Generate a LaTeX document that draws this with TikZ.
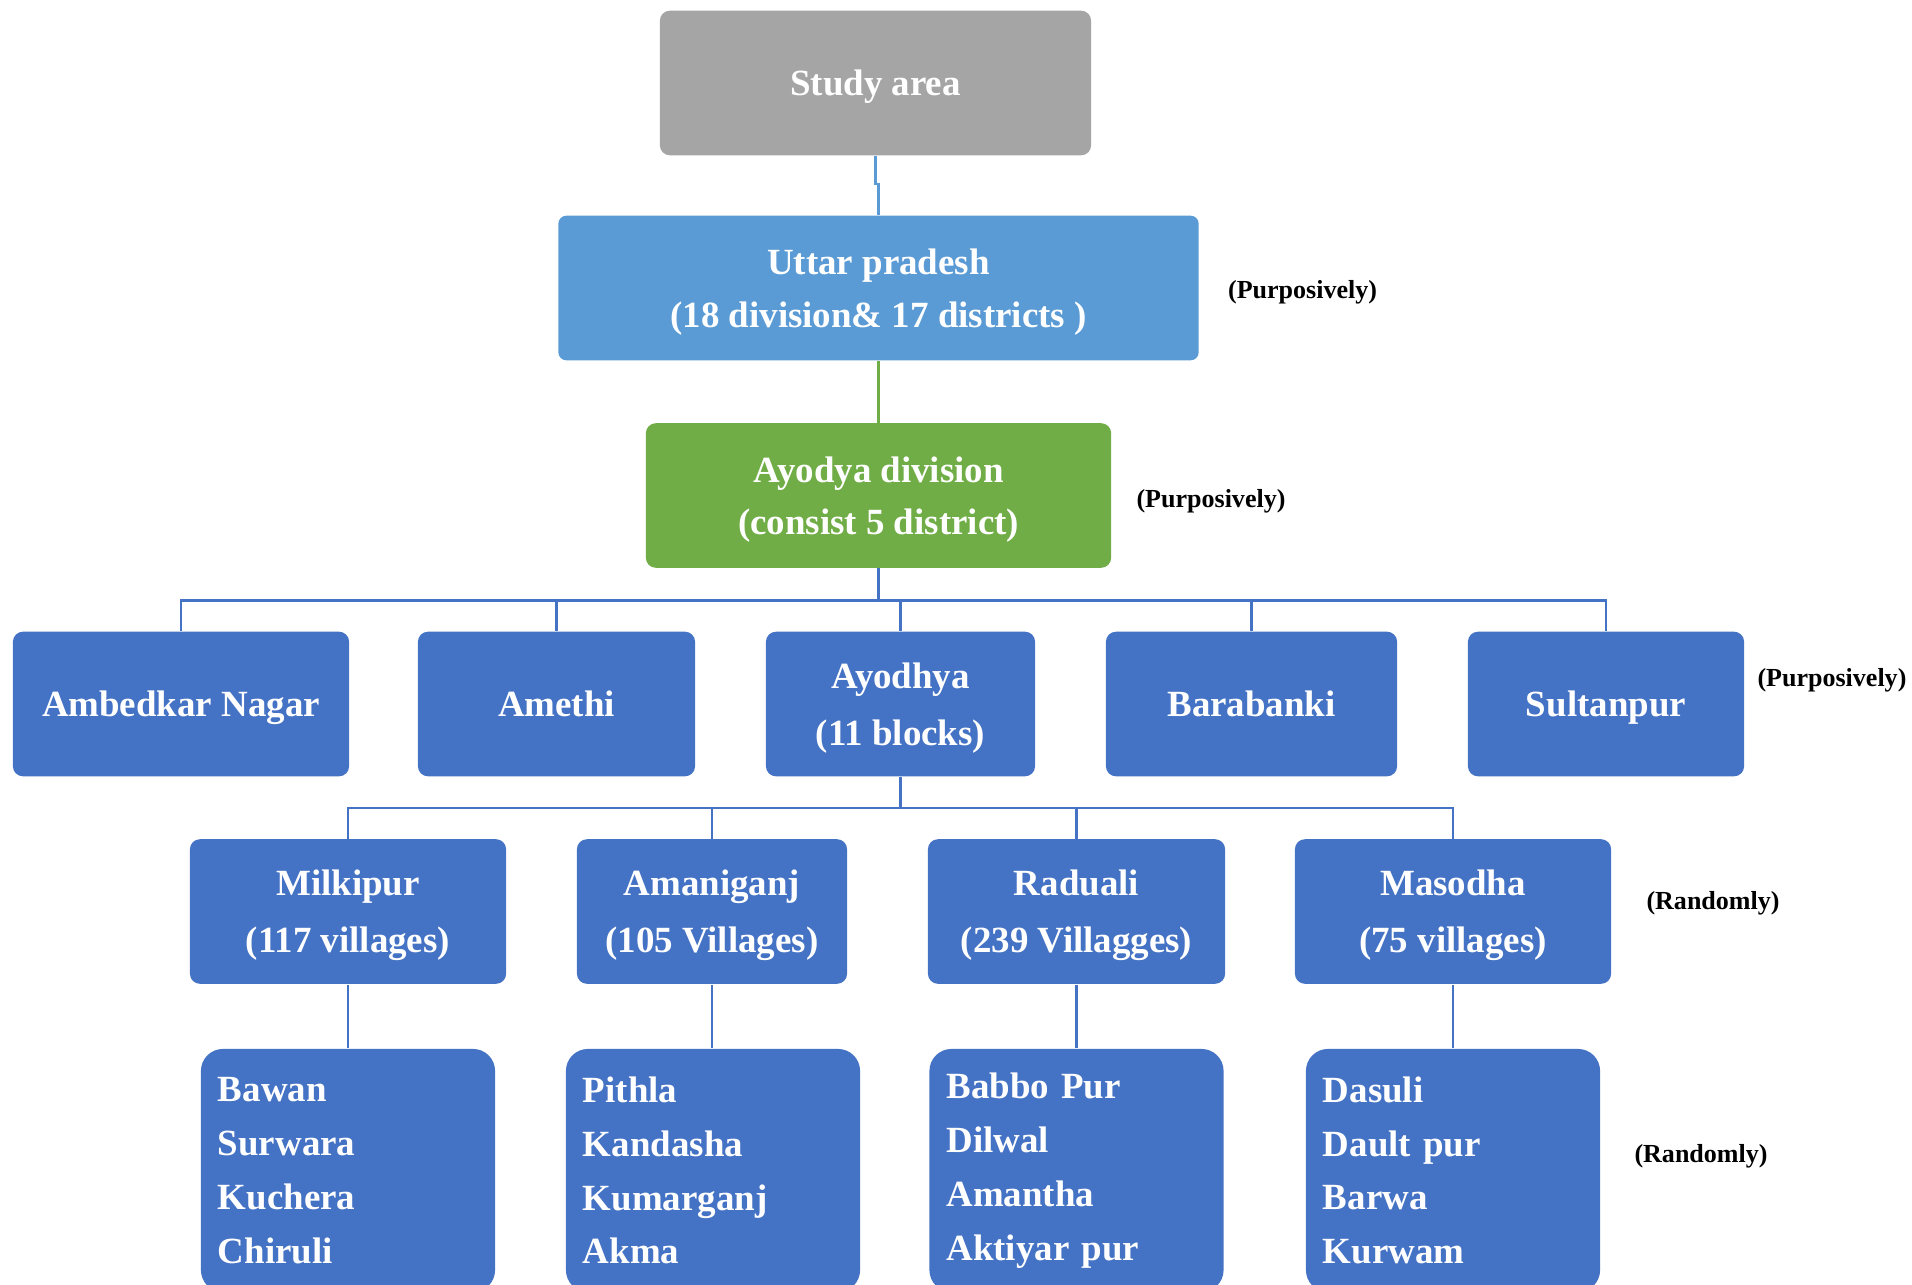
\documentclass[tikz,border=0pt]{standalone}
\usepackage{fontspec}
\setmainfont{Liberation Serif}
\usetikzlibrary{positioning,calc}
\newcommand{\boxfont}{\fontsize{10.5}{14.9}\selectfont\bfseries}
\newcommand{\tallfont}{\fontsize{10.5}{16.3}\selectfont\bfseries}
\newcommand{\villagefont}{\fontsize{10.5}{15.3}\selectfont\bfseries}
\newcommand{\annotfont}{\fontsize{7.4}{9}\selectfont\bfseries}
\def\boxheight{1.445cm}
\definecolor{stone}{HTML}{A5A5A5}
\definecolor{sky}{HTML}{5B9BD5}
\definecolor{leaf}{HTML}{70AD47}
\definecolor{royal}{HTML}{4472C4}

\begin{document}
\begin{tikzpicture}[x=0.01cm,y=-0.01cm,link/.style={draw=royal,line width=0.7pt}]
    \tikzstyle{box}=[rectangle,rounded corners=0.1cm,text=white,font=\boxfont,align=center,minimum height=\boxheight,inner sep=0pt]
    \tikzstyle{flat}=[text depth=0pt]
    \tikzstyle{top box}=[box,flat,fill=stone]
    \tikzstyle{state box}=[box,flat,fill=sky,rounded corners=0.08cm]
    \tikzstyle{division box}=[box,flat,fill=leaf]
    \tikzstyle{district box}=[box,flat,fill=royal,font=\tallfont]
    \tikzstyle{block box}=[box,flat,fill=royal,font=\tallfont]
    \tikzstyle{village box}=[box,fill=royal,align=left,text width=2.6cm,inner xsep=0.17cm,minimum height=2.43cm,rounded corners=0.22cm,font=\villagefont]
    \tikzstyle{annot}=[inner sep=0pt,font=\annotfont]

    \useasboundingbox (0,0) rectangle (1912,1285);
    \clip (0,0) rectangle (1912,1285);

    % Draw the nodes
    \node[top box,minimum width=4.31cm] (study) at (875.5,83) {Study area};
    \node[state box,minimum width=6.40cm] (up) at (878.5,288) {Uttar pradesh\\(18 division\& 17 districts )};
    \node[division box,minimum width=4.65cm] (div) at (878.5,495.5) {Ayodya division\\(consist 5 district)};

    \foreach \name/\x/\w/\txt in {1/181/3.36/{Ambedkar Nagar}, 2/556.5/2.77/{Amethi}, 3/900.5/2.69/{Ayodhya\\(11 blocks)}, 4/1251.5/2.91/{Barabanki}, 5/1606/2.76/{Sultanpur}}
        \node[district box,minimum width=\w cm] (dist-\name) at (\x,704) {\txt};

    \foreach \name/\x/\w/\txt in {1/348/3.16/{Milkipur\\(117 villages)}, 2/712/2.70/{Amaniganj\\(105 Villages)}, 3/1076.5/2.97/{Raduali\\(239 Villagges)}, 4/1453/3.16/{Masodha\\(75 villages)}}
        \node[block box,minimum width=\w cm] (blk-\name) at (\x,911.5) {\txt};

    \foreach \name/\x/\txt in {1/348/{Bawan\\Surwara\\Kuchera\\Chiruli}, 2/713/{Pithla\\Kandasha\\Kumarganj\\Akma}, 3/1076.5/{Babbo Pur\\Dilwal\\Amantha\\Aktiyar pur}, 4/1453/{Dasuli\\Dault pur\\Barwa\\Kurwam}}
        \node[village box] (vil-\name) at (\x,1170.5) {\txt};

    \node[annot,right=0.28cm of up,yshift=-0.044cm] (purp-1) {(Purposively)};
    \node[annot,right=0.24cm of div,yshift=-0.059cm] (purp-2) {(Purposively)};
    \node[annot,right=0.12cm of dist-5,yshift=0.236cm] (purp-3) {(Purposively)};
    \node[annot,right=0.34cm of blk-4,yshift=0.081cm] (rand-1) {(Randomly)};
    \node[annot,right=0.33cm of vil-4,yshift=0.141cm] (rand-2) {(Randomly)};

    % Connect every node
    \draw[link,draw=sky] (study.south) -- ++(0,28) -| (up.north);
    \draw[link,draw=leaf] (up.south) -- (div.north);

    \foreach \dest in {1,...,5}
        \draw[link] (div.south) -- ++(0,32) -| (dist-\dest.north);

    \foreach \dest in {1,...,4}
        \draw[link] (dist-3.south) -- ++(0,31) -| (blk-\dest.north);

    \foreach \i in {1,...,4}
        \draw[link] (blk-\i.south) -- (blk-\i.south |- vil-\i.north);
\end{tikzpicture}
\end{document}
